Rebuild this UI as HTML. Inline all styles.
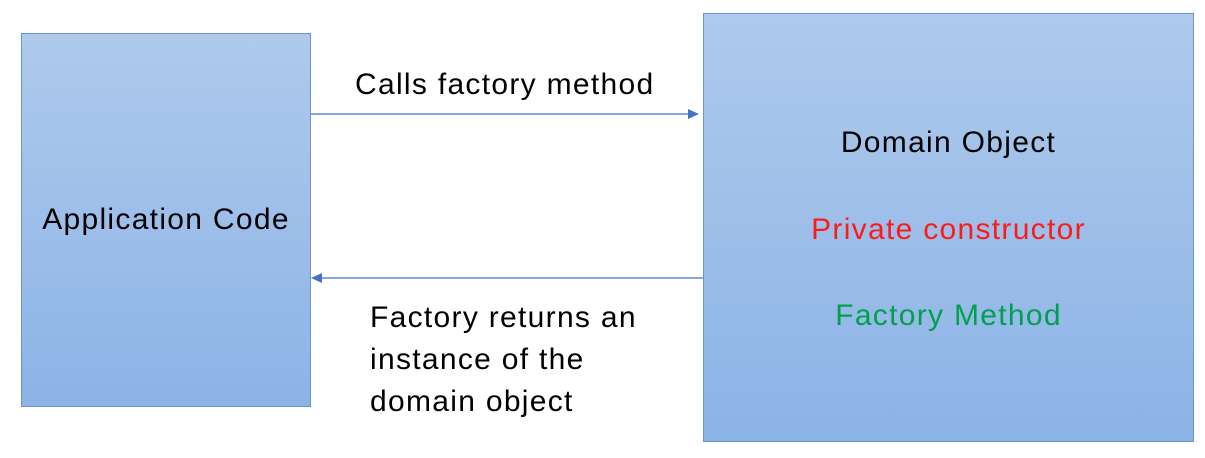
<!DOCTYPE html>
<html><head><meta charset="utf-8"><style>
body{margin:0;width:1205px;height:458px;background:#fff;position:relative;overflow:hidden;font-family:"Liberation Sans",sans-serif;}
.box{position:absolute;background:linear-gradient(#aecaec,#8cb3e6);border:1px solid #6f95c8;box-sizing:border-box;}
.t{position:absolute;font-size:30px;letter-spacing:1.3px;white-space:nowrap;line-height:1;}
</style></head><body>
<div class="box" style="left:21px;top:33px;width:290px;height:374px"></div>
<div class="box" style="left:703px;top:13px;width:491px;height:429px"></div>
<svg width="1205" height="458" style="position:absolute;left:0;top:0">
<line x1="311" y1="114" x2="690" y2="114" stroke="#4472c4" stroke-width="1.3"/>
<polygon points="699,114 688,109 688,119" fill="#4472c4"/>
<line x1="703" y1="278" x2="320" y2="278" stroke="#4472c4" stroke-width="1.3"/>
<polygon points="311,278 322,273 322,283" fill="#4472c4"/>
</svg>
<div class="t" style="left:21px;width:290px;text-align:center;top:205px">Application Code</div>
<div class="t" style="left:355px;top:70px">Calls factory method</div>
<div class="t" style="left:703px;width:491px;text-align:center;top:128px">Domain Object</div>
<div class="t" style="left:703px;width:491px;text-align:center;top:215px;color:#ff1a1a">Private constructor</div>
<div class="t" style="left:703px;width:491px;text-align:center;top:301px;color:#00a04f">Factory Method</div>
<div class="t" style="left:370px;top:303px">Factory returns an</div>
<div class="t" style="left:370px;top:345px">instance of the</div>
<div class="t" style="left:370px;top:387px">domain object</div>
</body></html>
